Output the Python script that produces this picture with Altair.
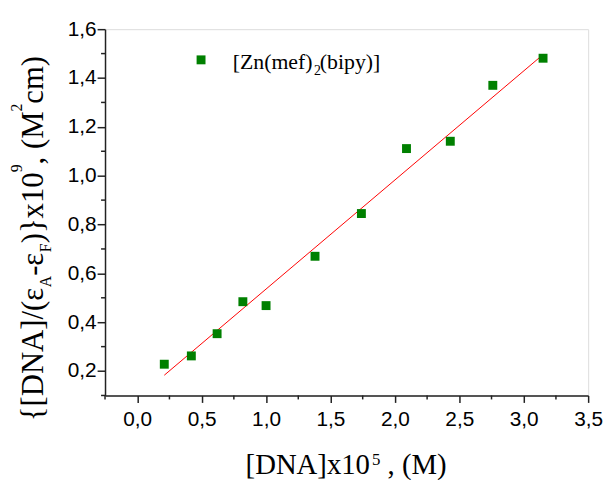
import altair as alt
import pandas as pd

# ---- data ----
x_vals = [0.21, 0.42, 0.62, 0.82, 1.00, 1.38, 1.74, 2.09, 2.43, 2.76, 3.15]
y_vals = [0.228, 0.262, 0.353, 0.484, 0.468, 0.670, 0.845, 1.111, 1.141, 1.370, 1.481]
fit_x = [0.21, 3.15]
fit_y = [0.183, 1.496]

x_major = [0.0, 0.5, 1.0, 1.5, 2.0, 2.5, 3.0, 3.5]
x_minor = [-0.25, 0.25, 0.75, 1.25, 1.75, 2.25, 2.75, 3.25]
y_major = [0.2, 0.4, 0.6, 0.8, 1.0, 1.2, 1.4, 1.6]
y_minor = [0.1, 0.3, 0.5, 0.7, 0.9, 1.1, 1.3, 1.5]

series_name = ["[Zn(mef)", "2", "(bipy)]"]
x_title = ["[DNA]x10", "5", ", (M)"]
# (text, role) role: m = main, b = subscript, p = superscript
y_title = [("{[DNA]/(ε", "m"), ("A", "b"), ("-ε", "m"), ("F", "b"), (")}x10", "m"),
           ("9", "p"), (", (M", "m"), ("2", "p"), ("cm)", "m")]

W, H = 488, 370
OX, OY = 106, 27  # page position of plot origin

# approximate Times / Liberation Serif advance widths (em) for laying out the pieces
ADV = {'{': 0.48, '}': 0.48, '[': 0.333, ']': 0.333, '(': 0.333, ')': 0.333, '/': 0.278,
       'D': 0.722, 'N': 0.722, 'A': 0.722, 'F': 0.556, 'M': 0.889, 'ε': 0.44, '-': 0.333,
       'x': 0.5, '1': 0.5, '0': 0.5, '9': 0.5, '2': 0.5, ',': 0.25, ' ': 0.25,
       'c': 0.444, 'm': 0.778}


def adv(s, size):
    return sum(ADV.get(c, 0.5) for c in s) * size


xscale = alt.Scale(domain=[-0.25, 3.5], nice=False, zero=False)
yscale = alt.Scale(domain=[0.1, 1.6], nice=False, zero=False)
comma = "replace(format(datum.value, '.1f'), '.', ',')"

df = pd.DataFrame({"x": x_vals, "y": y_vals})
fit = pd.DataFrame({"x": fit_x, "y": fit_y})

base_x_axis = alt.Axis(values=x_major, labelExpr=comma, tickSize=7, tickWidth=1.5,
                       tickColor="#222", domainColor="#222", domainWidth=1.5,
                       labelFont="Liberation Sans", labelFontSize=21, labelColor="black",
                       labelPadding=6, labelFlush=False, labelOverlap=False,
                       grid=False, title=None)
base_y_axis = alt.Axis(values=y_major, labelExpr=comma, tickSize=8, tickWidth=1.5,
                       tickColor="#222", domainColor="#222", domainWidth=1.5,
                       labelFont="Liberation Sans", labelFontSize=21, labelColor="black",
                       labelPadding=1, labelFlush=False, labelOverlap=False,
                       grid=False, title=None)

points = alt.Chart(df).mark_square(size=81, color="#008000", opacity=1).encode(
    x=alt.X("x:Q", scale=xscale, axis=base_x_axis),
    y=alt.Y("y:Q", scale=yscale, axis=base_y_axis),
)

line = alt.Chart(fit).mark_line(color="#ff0000", strokeWidth=1).encode(
    x=alt.X("x:Q", scale=xscale),
    y=alt.Y("y:Q", scale=yscale),
)

xminor = alt.Chart(pd.DataFrame({"v": x_minor})).mark_rule(color="#222", strokeWidth=1.5).encode(
    x=alt.X("v:Q", scale=xscale), y=alt.value(H), y2=alt.value(H + 4)
)
yminor = alt.Chart(pd.DataFrame({"v": y_minor})).mark_rule(color="#222", strokeWidth=1.5).encode(
    y=alt.Y("v:Q", scale=yscale), x=alt.value(0), x2=alt.value(-4)
)


def txt(s, px, py, size, angle=0, font="Liberation Serif"):
    return alt.Chart(pd.DataFrame({"t": [s]})).mark_text(
        align="left", baseline="alphabetic", font=font, fontSize=size,
        angle=angle, color="black"
    ).encode(text="t:N", x=alt.value(px - OX), y=alt.value(py - OY))


legend_mark = alt.Chart(pd.DataFrame({"t": [series_name[0]]})).mark_square(
    size=81, color="#008000", opacity=1
).encode(x=alt.value(203 - OX), y=alt.value(58 - OY))

texts = [
    txt(series_name[0], 235, 67, 22),
    txt(series_name[1], 317, 73, 14),
    txt(series_name[2], 323, 67, 22),
]

# x title laid out left to right
XS, XSUP = 29, 17
cx = 248
texts.append(txt(x_title[0], cx, 476, XS))
cx += adv(x_title[0], XS) + 2
texts.append(txt(x_title[1], cx, 467, XSUP))
cx += adv(x_title[1], XSUP) + adv(" ", XS)
texts.append(txt(x_title[2], cx, 476, XS))

# y title laid out bottom to top (rotated 270)
MAIN, SMALL = 31, 16
BASE = {"m": 43, "b": 51, "p": 22}
cy = 423
for s, role in y_title:
    size = MAIN if role == "m" else SMALL
    texts.append(txt(s, BASE[role], cy, size, angle=270))
    cy -= adv(s, size)

chart = alt.layer(line, points, xminor, yminor, legend_mark, *texts).properties(
    width=W, height=H,
    padding={"left": 98, "top": 19, "right": 15, "bottom": 83},
    autosize=alt.AutoSizeParams(type="none"),
).configure_view(stroke=None).configure(background="white")

chart.save("out.html", embed_options={"renderer": "svg", "actions": False})
